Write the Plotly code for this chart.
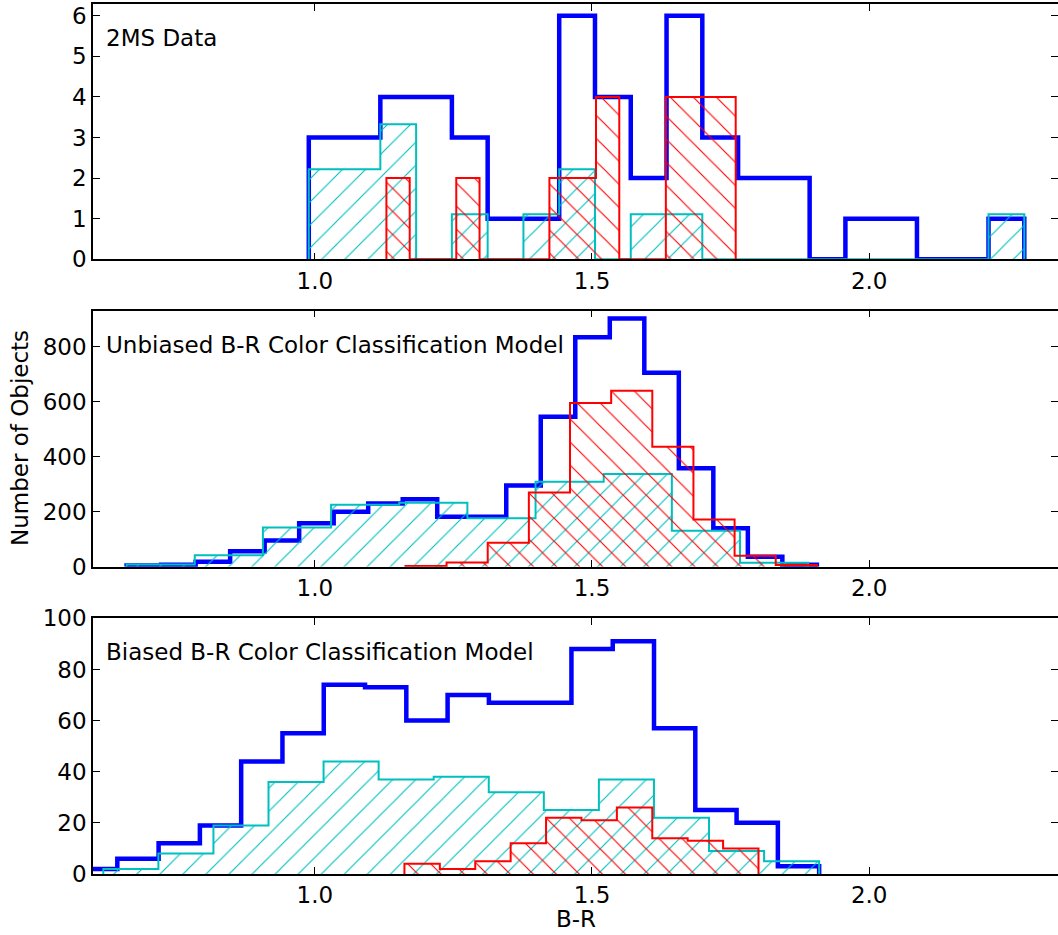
import plotly.graph_objects as go

W, H = 1058, 935

# ---------------- data (bin range + counts per histogram) ----------------
# Panel 1: 2MS Data
top_blue_range = (0.9892, 2.2797)
top_blue_counts = [3, 3, 4, 4, 3, 1, 1, 6, 4, 2, 6, 3, 2, 2, 0, 1, 1, 0, 0, 1]
top_cyan_range = (0.9892, 2.2797)
top_cyan_counts = [2.22, 2.22, 3.33, 0, 1.11, 0, 1.11, 2.22, 0, 1.11, 1.11,
                   0, 0, 0, 0, 0, 0, 0, 0, 1.11]
top_red_range = (1.1292, 1.7592)
top_red_counts = [2, 0, 0, 2, 0, 0, 0, 2, 2, 4, 0, 0, 4, 4, 4]

# Panel 2: Unbiased model
mid_blue_range = (0.6606, 1.9056)
mid_blue_counts = [4, 7, 18, 56, 95, 158, 200, 230, 245, 182, 182, 295,
                   545, 834, 903, 705, 358, 140, 36, 7]
mid_cyan_range = (0.6606, 1.8899)
mid_cyan_counts = [8, 42, 143, 225, 233, 176, 309, 337, 131, 14]
mid_red_range = (1.1635, 1.9056)
mid_red_counts = [3, 15, 87, 270, 595, 640, 436, 172, 40, 6]

# Panel 3: Biased model
bot_blue_range = (0.5694, 1.9097)
bot_blue_counts = [2, 6, 12, 19, 44, 55, 74, 73, 60, 70, 67, 67, 88, 91,
                   57, 25, 20, 3]
bot_cyan_range = (0.6186, 1.9097)
bot_cyan_counts = [2, 8, 19, 36, 44, 37, 38, 32, 25, 37, 22, 9, 5]
bot_red_range = (1.1617, 1.8003)
bot_red_counts = [4, 2, 5, 12, 22, 21, 26, 14, 13, 10]

panel_labels = ["2MS Data", "Unbiased B-R Color Classification Model",
                "Biased B-R Color Classification Model"]
x_tickvals = [1.0, 1.5, 2.0]
x_ticktext = ["1.0", "1.5", "2.0"]
y_ranges = [(0, 6.29), (0, 931), (0, 100)]
y_tickvals = [[0, 1, 2, 3, 4, 5, 6], [0, 200, 400, 600, 800],
              [0, 20, 40, 60, 80, 100]]
x_title = "B-R"
y_title = "Number of Objects"

BLUE = "#0000ff"
CYAN = "#00bfbf"
RED = "#ff0000"
FONT = "DejaVu Sans"


def step_xy(rng, counts):
    lo, hi = rng
    n = len(counts)
    e = [lo + (hi - lo) * i / n for i in range(n + 1)]
    return [e[0]] + e, [0] + list(counts) + [0]


fig = go.Figure()

panels = [
    (top_blue_range, top_blue_counts, top_cyan_range, top_cyan_counts, top_red_range, top_red_counts),
    (mid_blue_range, mid_blue_counts, mid_cyan_range, mid_cyan_counts, mid_red_range, mid_red_counts),
    (bot_blue_range, bot_blue_counts, bot_cyan_range, bot_cyan_counts, bot_red_range, bot_red_counts),
]

# pixel geometry of panels (top, bottom)
ML = 93
panel_px = [(4, 259.3), (310.7, 566.7), (618.3, 874)]

HATCH = 16.3
for i, (br, bc, cr, cc, rr, rc) in enumerate(panels):
    xa = "x" if i == 0 else f"x{i+1}"
    ya = "y" if i == 0 else f"y{i+1}"
    x, y = step_xy(br, bc)
    fig.add_trace(go.Scatter(x=x, y=y, mode="lines", line=dict(color=BLUE, width=4.5, shape="hv"),
                             xaxis=xa, yaxis=ya, showlegend=False, hoverinfo="skip"))
    x, y = step_xy(cr, cc)
    fig.add_trace(go.Scatter(x=x, y=y, mode="lines", line=dict(color=CYAN, width=2, shape="hv"),
                             fill="tozeroy", fillcolor="rgba(0,0,0,0)",
                             fillpattern=dict(shape="/", fgcolor=CYAN, bgcolor="rgba(0,0,0,0)",
                                              fgopacity=1, size=HATCH, solidity=0.07),
                             xaxis=xa, yaxis=ya, showlegend=False, hoverinfo="skip"))
    x, y = step_xy(rr, rc)
    fig.add_trace(go.Scatter(x=x, y=y, mode="lines", line=dict(color=RED, width=2, shape="hv"),
                             fill="tozeroy", fillcolor="rgba(0,0,0,0)",
                             fillpattern=dict(shape="\\", fgcolor=RED, bgcolor="rgba(0,0,0,0)",
                                              fgopacity=1, size=HATCH, solidity=0.07),
                             xaxis=xa, yaxis=ya, showlegend=False, hoverinfo="skip"))

axis_common = dict(showline=True, linecolor="black", linewidth=1.5, mirror="allticks",
                   ticks="inside", ticklen=7, tickwidth=1.2, tickcolor="black",
                   showgrid=False, zeroline=False, automargin=False,
                   tickfont=dict(family=FONT, size=23, color="black"))

layout = dict(width=W, height=H, margin=dict(l=ML, r=0, t=0, b=0, autoexpand=False),
              paper_bgcolor="white", plot_bgcolor="white", showlegend=False)

annotations = []
for i in range(3):
    xk = "xaxis" if i == 0 else f"xaxis{i+1}"
    yk = "yaxis" if i == 0 else f"yaxis{i+1}"
    ya = "y" if i == 0 else f"y{i+1}"
    xa = "x" if i == 0 else f"x{i+1}"
    top, bot = panel_px[i]
    layout[xk] = dict(axis_common, domain=[0, 1], range=[0.6, 2.3405], anchor=ya,
                      tickvals=x_tickvals, ticktext=x_ticktext)
    layout[yk] = dict(axis_common, domain=[1 - bot / H, 1 - top / H], range=list(y_ranges[i]),
                      anchor=xa, tickvals=y_tickvals[i])
    annotations.append(dict(text=panel_labels[i], xref="paper", yref="paper",
                            x=(104 - ML) / (W - ML), y=1 - (top + 34) / H,
                            xanchor="left", yanchor="middle", showarrow=False,
                            font=dict(family=FONT, size=23, color="black")))

annotations.append(dict(text=x_title, xref="paper", yref="paper", x=0.5, y=1 - 919 / H,
                        xanchor="center", yanchor="middle", showarrow=False,
                        font=dict(family=FONT, size=23, color="black")))
annotations.append(dict(text=y_title, xref="paper", yref="paper", x=(20 - ML) / (W - ML),
                        y=1 - 438 / H, xanchor="center", yanchor="middle", textangle=-90,
                        showarrow=False, font=dict(family=FONT, size=23, color="black")))
layout["annotations"] = annotations

fig.update_layout(**layout)
fig.write_html("out.html")
